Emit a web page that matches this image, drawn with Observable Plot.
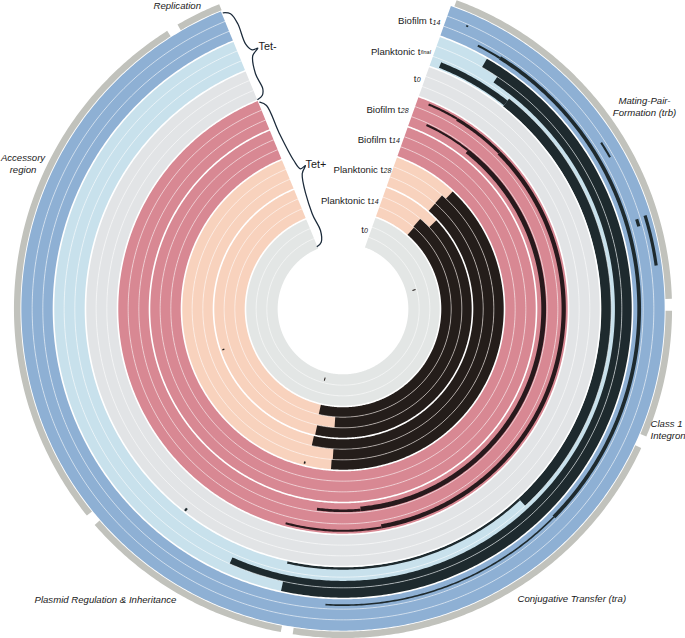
<!DOCTYPE html>
<html>
<head>
<meta charset="utf-8">
<style>html,body{margin:0;padding:0;background:#fff}svg{display:block}</style>
<script src="https://cdn.jsdelivr.net/npm/d3@7"></script>
<script src="https://cdn.jsdelivr.net/npm/@observablehq/plot@0.6"></script>
</head>
<body>
<div id="chart"></div>
<script>
// Sample groups, inner to outer; each has three replicate tracks
const groupLabels = ["t", "Planktonic t", "Planktonic t", "Biofilm t", "Biofilm t", "t", "Planktonic t", "Biofilm t"];
const groupSubs = ["0", "14", "28", "14", "28", "0", "final", "14"];
const groupColors = ["#e3e6e5", "#f8d2bd", "#f8d2bd", "#d88893", "#d88893", "#e2e4e6", "#c8e1ec", "#8eb0d4"];
const hitColors = ["#241d1a", "#241d1a", "#241d1a", "#28191c", "#28191c", "#1e2a2e", "#1e2a2e", "#1e2a2e"];

// Extent of the map, in degrees clockwise from north
const mapStart = 19.6, mapEnd = 337.7;

// Covered stretches: [track from, track to, angle from, angle to]
const coverage = [
  [3, 4, 41, 193], [4, 5, 40.6, 184.1], [5, 6, 46.5, 192.5],
  [6, 7, 41.1, 192.9], [7, 8, 41.1, 183.9], [8, 9, 43, 184.3],
  [12.7, 12.9, 24.4, 38.2], [12.45, 12.9, 38.2, 175], [12.65, 12.9, 175, 187.4],
  [14.55, 14.75, 22.7, 31], [14.45, 14.75, 31, 45], [14.35, 14.75, 45, 170], [14.55, 14.75, 170, 195],
  [18.2, 18.75, 21.7, 38.3], [18.05, 19, 38.3, 137.2], [18.05, 18.3, 137.2, 192.4],
  [19.35, 20, 33.6, 204], [20, 21, 29.9, 192.4],
  [21.5, 21.7, 27.1, 32], [21.45, 21.8, 32, 134.6], [21.55, 21.7, 134.6, 183.4],
  [22.55, 22.75, 57.2, 60.4], [22.5, 22.8, 73, 74.4], [23.35, 23.65, 72.8, 82.1],
  [0.6, 0.9, 74.6, 75.4], [0.5, 0.8, 194.2, 195], [5.6, 5.8, 251, 251.6],
  [8.6, 8.8, 193.7, 194.3], [17.6, 17.9, 217.8, 218.3], [22.75, 22.9, 23.5, 23.9]
];

// Gene regions on the outer annotation ring
const regionKeys = ["Mating-Pair-\nFormation (trb)", "Class 1\nIntegron", "Conjugative Transfer (tra)", "Plasmid Regulation & Inheritance", "Accessory\nregion", "Replication"];
const regionStart = [20.2, 90.3, 115, 190.9, 231.1, 329.8];
const regionEnd = [88.2, 112.8, 188.8, 229, 327.7, 337.9];
const regionTextX = [644, 650, 517, 34, 22.5, 153];
const regionTextY = [106, 429, 598, 599, 163, 5];
const regionTextAnchor = ["middle", "start", "start", "start", "middle", "start"];

// Sample labels, inner to outer
const sampleTextX = [363.3, 370, 382.7, 391.3, 400, 416, 420, 431.7];
const sampleTextY = [229, 200, 169, 139, 109, 78, 51, 20.7];

// Brackets
const bracketNames = ["Tet-", "Tet+"];
const bracketTextX = [258, 305];
const bracketTextY = [46, 164.5];
const tetMinusX = [222.7, 230, 237.3, 245, 251.7, 257.3, 252.3, 255, 262.3, 261.7, 257.3];
const tetMinusY = [12.3, 13.3, 23.3, 43.3, 49.3, 47.7, 55, 73.3, 88.3, 95, 99];
const tetPlusX = [259.3, 266, 278.3, 293.3, 300, 305, 301.7, 311.7, 320, 320.7, 316.7];
const tetPlusY = [101.7, 105, 131.7, 160, 168.3, 165, 173.3, 213.3, 230, 241.7, 246];

// Layout of the polar frame
const W = 685, H = 638, cx = 342.5, cy = 308.5;
const r0 = 65.5, trackW = 10.667;
const rad = t => r0 + t * trackW;
const font = "'Liberation Sans', Arial, sans-serif";

function arc(id, r, a0, a1, c, w) {
  const n = Math.max(2, Math.ceil((a1 - a0) / 0.5) + 1);
  return d3.range(n).map(i => {
    const a = (a0 + (a1 - a0) * i / (n - 1)) * Math.PI / 180;
    return {id, x: cx + r * Math.sin(a), y: cy - r * Math.cos(a), c, w};
  });
}

const tracks = d3.range(24);
const bands = tracks.flatMap(t => arc("b" + t, rad(t + 0.5), mapStart, mapEnd, groupColors[Math.floor(t / 3)], trackW + 0.3));
const hits = coverage.flatMap((s, i) => arc("h" + i, rad((s[0] + s[1]) / 2), s[2], s[3], hitColors[Math.floor(s[0] / 3)], (s[1] - s[0]) * trackW));
const seps = d3.range(1, 24).flatMap(t => arc("s" + t, rad(t), mapStart - 0.5, mapEnd + 0.5, "#ffffff", t % 3 === 0 ? 1.6 : 0.55));
const regions = regionKeys.flatMap((n, i) => arc("r" + i, 325.8, regionStart[i], regionEnd[i], "#c1c2bc", 6.5));
const lineOpts = {x: "x", y: "y", z: "id", stroke: "c", strokeWidth: "w", strokeLinecap: "butt", strokeLinejoin: "round"};
const brace = (xs, ys) => Plot.line(xs.map((x, i) => [x, ys[i]]), {x: "0", y: "1", stroke: "#1b2a3a", strokeWidth: 1.25, curve: "catmull-rom", strokeLinecap: "round"});
const regionTable = regionKeys.map((name, i) => ({name, x: regionTextX[i], y: regionTextY[i], anchor: regionTextAnchor[i]}));
const regionText = anchor => Plot.text(regionTable.filter(d => d.anchor === anchor), {x: "x", y: "y", text: "name", textAnchor: anchor, fontStyle: "italic", fontSize: 9.6, lineHeight: 1.2, fill: "#1a1a1a"});
const sampleTable = groupLabels.map((label, i) => ({label, sub: groupSubs[i], x: sampleTextX[i], y: sampleTextY[i]}));

const chart = Plot.plot({
  width: W, height: H, margin: 0,
  style: {fontFamily: font, background: "#fff", color: "#1a1a1a"},
  x: {domain: [0, W], range: [0, W], axis: null},
  y: {domain: [0, H], range: [0, H], axis: null},
  color: {type: "identity"},
  marks: [
    Plot.line(bands, lineOpts),
    Plot.line(hits, lineOpts),
    Plot.line(seps, lineOpts),
    Plot.line(regions, lineOpts),
    brace(tetMinusX, tetMinusY),
    brace(tetPlusX, tetPlusY),
    regionText("middle"),
    regionText("start"),
    Plot.text(sampleTable, {x: "x", y: "y", text: "label", textAnchor: "end", fontSize: 9.6, fill: "#1a1a1a"}),
    Plot.text(sampleTable.filter(d => d.sub !== "final"), {x: d => d.x + 0.3, y: d => d.y + 1.2, text: "sub", textAnchor: "start", fontStyle: "italic", fontSize: 7, fill: "#1a1a1a"}),
    Plot.text(sampleTable.filter(d => d.sub === "final"), {x: d => d.x + 0.3, y: d => d.y + 1.2, text: "sub", textAnchor: "start", fontStyle: "italic", fontSize: 5.5, fill: "#1a1a1a"}),
    Plot.text(bracketNames, {x: (d, i) => bracketTextX[i], y: (d, i) => bracketTextY[i], text: d => d, textAnchor: "start", fontSize: 10.8, fill: "#1a1a1a"})
  ]
});
document.getElementById("chart").append(chart);
</script>
</body>
</html>
